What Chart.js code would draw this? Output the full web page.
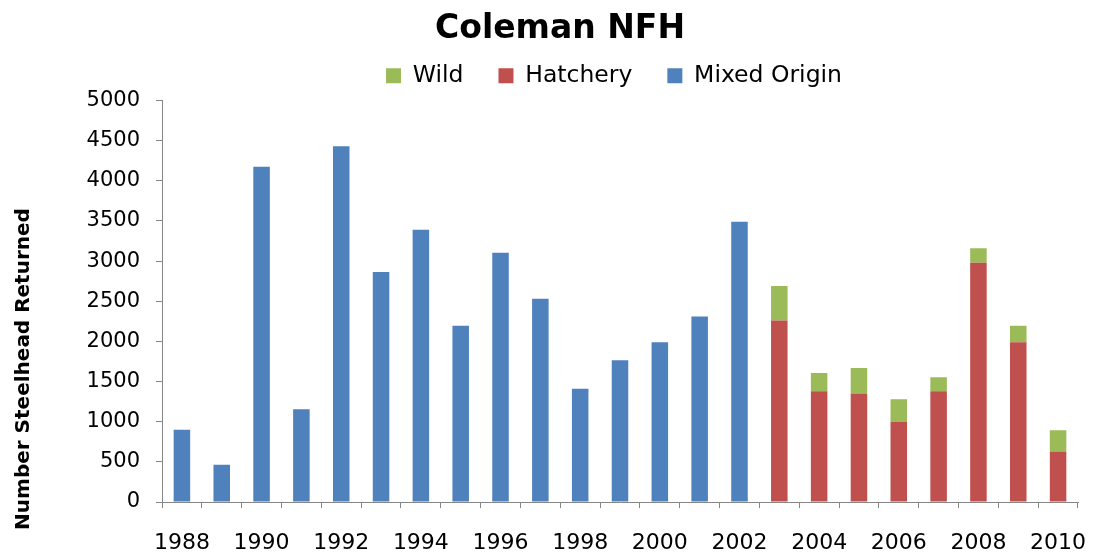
<!DOCTYPE html>
<html>
<head>
<meta charset="utf-8">
<script src="https://cdn.jsdelivr.net/npm/chart.js@4/dist/chart.umd.min.js"></script>
<style>
  html, body { margin: 0; padding: 0; background: #ffffff; }
  #wrap { width: 1104px; height: 556px; }
</style>
</head>
<body>
<div id="wrap"><canvas id="c" width="1104" height="556"></canvas></div>
<script>
const years = ['1988','1989','1990','1991','1992','1993','1994','1995','1996','1997','1998','1999','2000','2001','2002','2003','2004','2005','2006','2007','2008','2009','2010'];
const mixedOrigin = [900, 465, 4175, 1155, 4430, 2865, 3390, 2195, 3105, 2530, 1410, 1765, 1990, 2310, 3490, null, null, null, null, null, null, null, null];
const hatchery = [null, null, null, null, null, null, null, null, null, null, null, null, null, null, null, 2260, 1380, 1350, 995, 1380, 2980, 1990, 630];
const wild = [null, null, null, null, null, null, null, null, null, null, null, null, null, null, null, 430, 225, 320, 285, 175, 180, 205, 265];
const yTicks = [0, 500, 1000, 1500, 2000, 2500, 3000, 3500, 4000, 4500, 5000];

const FONT = "'DejaVu Sans', 'Liberation Sans', sans-serif";
const AXIS_GRAY = '#868686';

const shiftPlugin = {
  id: 'shiftBlocks',
  afterLayout(chart) {
    const t = chart.titleBlock;
    if (t) { t.top += 13; t.bottom += 13; }
    const l = chart.legend;
    if (l) { l.left += 54; l.right += 54; l.top -= 3; l.bottom -= 3; }
  }
};

const yTitlePlugin = {
  id: 'yTitle',
  afterDraw(chart) {
    const ctx = chart.ctx;
    ctx.save();
    ctx.translate(24, 369);
    ctx.rotate(-Math.PI / 2);
    ctx.font = "bold 20px " + FONT;
    ctx.fillStyle = '#000000';
    ctx.textAlign = 'center';
    ctx.textBaseline = 'middle';
    ctx.fillText('Number Steelhead Returned', 0, 0);
    ctx.restore();
  }
};

new Chart(document.getElementById('c'), {
  type: 'bar',
  data: {
    labels: years,
    datasets: [
      { label: 'Hatchery', data: hatchery, backgroundColor: '#C0504D', stack: 's' },
      { label: 'Wild', data: wild, backgroundColor: '#9BBB59', stack: 's' },
      { label: 'Mixed Origin', data: mixedOrigin, backgroundColor: '#4F81BD', stack: 's' }
    ]
  },
  options: {
    responsive: false,
    animation: false,
    devicePixelRatio: 1,
    layout: { padding: { left: 42, right: 26, top: 0, bottom: 0 } },
    datasets: { bar: { categoryPercentage: 1.0, barPercentage: 0.415, borderWidth: 0 } },
    plugins: {
      title: {
        display: true,
        text: 'Coleman NFH',
        color: '#000000',
        font: { family: FONT, size: 33, weight: 'bold', lineHeight: 0.97 },
        padding: { top: 0, bottom: 0 }
      },
      legend: {
        display: true,
        position: 'top',
        labels: {
          color: '#000000',
          font: { family: FONT, size: 23.5 },
          boxWidth: 15,
          boxHeight: 15,
          padding: 35,
          sort: (a, b) => {
            const rank = { 'Wild': 0, 'Hatchery': 1, 'Mixed Origin': 2 };
            return rank[a.text] - rank[b.text];
          }
        }
      },
      tooltip: { enabled: false }
    },
    scales: {
      x: {
        stacked: true,
        offset: true,
        afterFit: (s) => { s.height = 54; s.paddingLeft = 0; s.paddingRight = 0; },
        grid: { display: true, drawOnChartArea: false, drawTicks: true, tickLength: 6, color: AXIS_GRAY, offset: true },
        border: { display: true, color: AXIS_GRAY, width: 1 },
        ticks: {
          autoSkip: false,
          maxRotation: 0,
          minRotation: 0,
          padding: 22,
          color: '#000000',
          font: { family: FONT, size: 22 },
          callback: function (value, index) { return index % 2 === 0 ? this.getLabelForValue(value) : ''; }
        }
      },
      y: {
        stacked: true,
        min: 0,
        max: 5000,
        afterFit: (s) => { s.width = 120; },
        afterBuildTicks: (s) => { s.ticks = yTicks.map(v => ({ value: v })); },
        grid: { display: true, drawOnChartArea: false, drawTicks: true, tickLength: 6, color: AXIS_GRAY },
        border: { display: true, color: AXIS_GRAY, width: 1 },
        ticks: {
          padding: 16,
          color: '#000000',
          font: { family: FONT, size: 21 },
          callback: (value) => String(value)
        }
      }
    }
  },
  plugins: [shiftPlugin, yTitlePlugin]
});
</script>
</body>
</html>
